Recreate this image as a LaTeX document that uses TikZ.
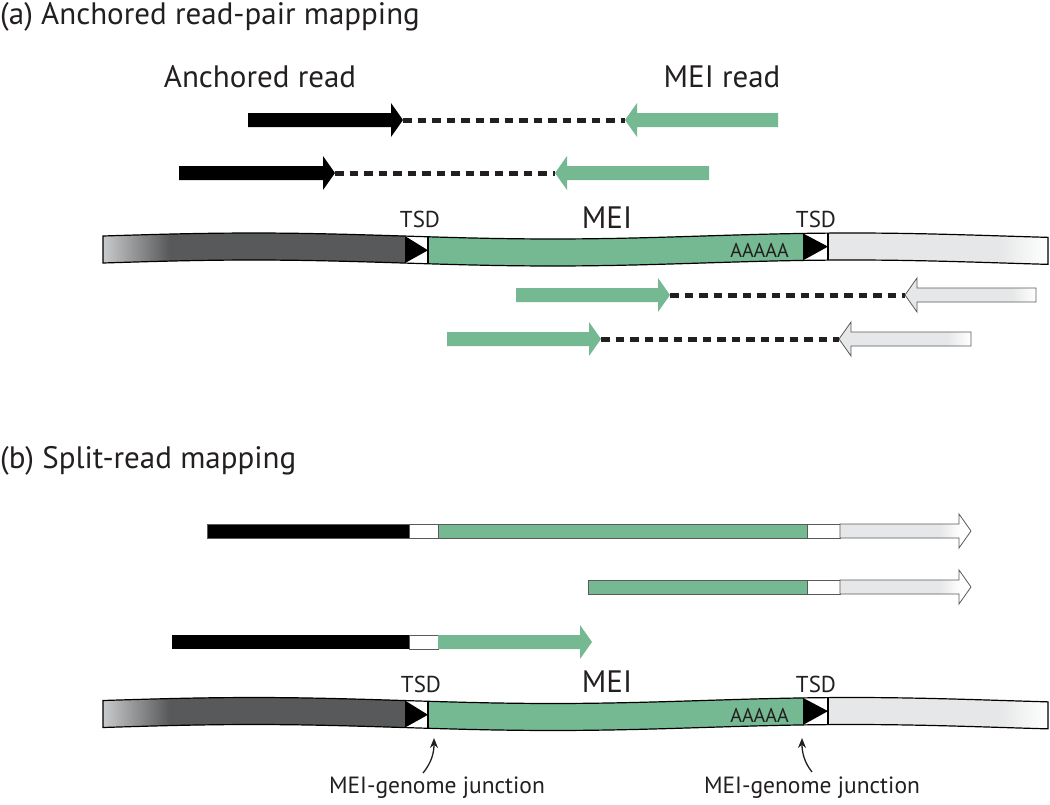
\documentclass[tikz,border=0pt]{standalone}
\usepackage{fontspec}
\setmainfont{PT Sans}
\usepackage{xcolor}
\usepackage{tikz}
\usetikzlibrary{arrows.meta}
\definecolor{meig}{HTML}{74B992}
\definecolor{dgray}{HTML}{58595B}
\definecolor{lgray}{HTML}{E6E7E8}
\definecolor{pgray}{HTML}{C9CACC}
\definecolor{edgec}{HTML}{5A5A5A}
\definecolor{inkc}{HTML}{231F20}
\pgfdeclarehorizontalshading{fadeL}{100bp}{color(0bp)=(pgray); color(25bp)=(pgray); color(36bp)=(dgray); color(100bp)=(dgray)}
\pgfdeclarehorizontalshading{fadeR}{100bp}{color(0bp)=(lgray); color(64bp)=(lgray); color(75bp)=(white); color(100bp)=(white)}
\pgfdeclarehorizontalshading{fadeA}{100bp}{color(0bp)=(lgray); color(66bp)=(lgray); color(75bp)=(white); color(100bp)=(white)}
\pgfdeclarehorizontalshading{fadeB}{100bp}{color(0bp)=(lgray); color(63bp)=(lgray); color(71bp)=(white); color(100bp)=(white)}
\tikzset{
  ttl/.style={font=\fontsize{31}{35}\selectfont,text=inkc,inner sep=0pt},
  lbl/.style={font=\fontsize{31}{35}\selectfont,text=inkc,inner sep=0pt,anchor=base},
  tsdlbl/.style={font=\fontsize{23}{27}\selectfont,text=inkc,inner sep=0pt,anchor=base},
  polylbl/.style={font=\fontsize{20}{24}\selectfont,text=inkc,inner sep=0pt,anchor=base east},
  jnclbl/.style={font=\fontsize{23.5}{27}\selectfont,text=inkc,inner sep=0pt,anchor=base},
  pairln/.style={line width=5pt,dash pattern=on 8.5pt off 6pt,inkc},
  junc/.style={-{Stealth[length=10pt,width=8pt]},line width=1.3pt,inkc},
  edgeln/.style={draw=edgec,line width=0.8pt}
}
% read arrows: style, tail/tip x, y
\newcommand{\readR}[4]{\path[#1] (#2,#4-7) -- (#3-12,#4-7) -- (#3-12,#4-17) -- (#3,#4) -- (#3-12,#4+17) -- (#3-12,#4+7) -- (#2,#4+7) -- cycle;}
\newcommand{\readL}[4]{\path[#1] (#2,#4) -- (#2+12,#4-17) -- (#2+12,#4-7) -- (#3,#4-7) -- (#3,#4+7) -- (#2+12,#4+7) -- (#2+12,#4+17) -- cycle;}
% one piece of the wavy genome
\newcommand{\seg}[4]{\path[#1] plot[domain=#2:#3,samples=40] (\x,{#4-13.5-wv(\x)}) -- plot[domain=#3:#2,samples=40] (\x,{#4+13.5-wv(\x)}) -- cycle;}
\newcommand{\chromo}[1]{%
  \seg{shade,shading=fadeL}{103}{405}{#1}
  \seg{fill=white}{405}{428}{#1}
  \seg{fill=meig}{428}{803}{#1}
  \seg{fill=white}{803}{828}{#1}
  \seg{shade,shading=fadeR}{828}{1048}{#1}
  \fill[black] (405,{#1-13.5-wv(405)}) -- (428,{#1-wv(428)}) -- (405,{#1+13.5-wv(405)}) -- cycle;
  \fill[black] (803,{#1-13.5-wv(803)}) -- (828,{#1-wv(828)}) -- (803,{#1+13.5-wv(803)}) -- cycle;
  \draw[line width=1.2pt] (428,{#1-13.5-wv(428)}) -- (428,{#1+13.5-wv(428)});
  \draw[line width=1.2pt] (828,{#1-13.5-wv(828)}) -- (828,{#1+13.5-wv(828)});
  \seg{draw=black,line width=1.2pt}{103}{1048}{#1}
}

\begin{document}
\begin{tikzpicture}[x=1pt,y=-1pt,declare function={wv(\x)=3*sin(0.6*(\x-103));}]
\useasboundingbox (0,0) rectangle (1050,804);

%% (a) anchored read pairs
\node[ttl,anchor=base west] (ttla) at (0,24) {(a) Anchored read-pair mapping};
\node[lbl] (anc) at (260,87) {Anchored read};
\node[lbl] (meir) at (722,87) {MEI read};

\readR{fill=black}{248}{403}{120}
\readL{fill=meig}{625}{778}{120}
\coordinate (p1a) at (403,120);
\coordinate (p1b) at (625,120);
\draw[pairln] (p1a) -- (p1b);

\readR{fill=black}{179}{335}{173}
\readL{fill=meig}{555}{709}{173}
\coordinate (p2a) at (335,173);
\coordinate (p2b) at (555,173);
\draw[pairln] (p2a) -- (p2b);

\chromo{249.5}
\node[tsdlbl] (tsda1) at (420,227) {TSD};
\node[tsdlbl] (tsda2) at (816,227) {TSD};
\node[lbl] (meia) at (607,228) {MEI};
\node[polylbl] (polya) at (789,257) {AAAAA};

\readR{fill=meig}{516}{670}{295}
\readL{shade,shading=fadeA,edgeln}{905}{1036}{295}
\coordinate (p3a) at (670,295);
\coordinate (p3b) at (905,295);
\draw[pairln] (p3a) -- (p3b);

\readR{fill=meig}{447}{601}{339}
\readL{shade,shading=fadeA,edgeln}{839}{971}{339}
\coordinate (p4a) at (601,339);
\coordinate (p4b) at (839,339);
\draw[pairln] (p4a) -- (p4b);

%% (b) split reads
\node[ttl,anchor=base west] (ttlb) at (0,468) {(b) Split-read mapping};

\fill[black] (207,524) rectangle (409,538);
\fill[meig] (438,524) rectangle (807,538);
\draw[edgeln,fill=white] (409,524) rectangle (438,538);
\draw[edgeln,fill=white] (807,524) rectangle (840,538);
\draw[edgec,line width=0.6pt] (207,524) rectangle (840,538);
\readR{shade,shading=fadeB,edgeln}{840}{971}{531}

\fill[meig] (588,580) rectangle (807,594);
\draw[edgeln,fill=white] (807,580) rectangle (840,594);
\draw[edgec,line width=0.6pt] (588,580) rectangle (840,594);
\readR{shade,shading=fadeB,edgeln}{840}{971}{587}

\fill[black] (172,635) rectangle (409,649);
\draw[edgeln,fill=white] (409,635) rectangle (438,649);
\readR{fill=meig}{438}{592}{642}

\chromo{714}
\node[tsdlbl] (tsdb1) at (421,692) {TSD};
\node[tsdlbl] (tsdb2) at (816,692) {TSD};
\node[lbl] (meib) at (607,692) {MEI};
\node[polylbl] (polyb) at (789,722) {AAAAA};

\node[jnclbl] (jncl) at (437,793) {MEI-genome junction};
\node[jnclbl] (jncr) at (812,793) {MEI-genome junction};
\coordinate (jtl) at (434,738);
\coordinate (jtr) at (802,738);
\draw[junc] (423,773) .. controls (432,762) and (434,752) .. (jtl);
\draw[junc] (812,772) .. controls (804,762) and (802,752) .. (jtr);
\end{tikzpicture}
\end{document}
